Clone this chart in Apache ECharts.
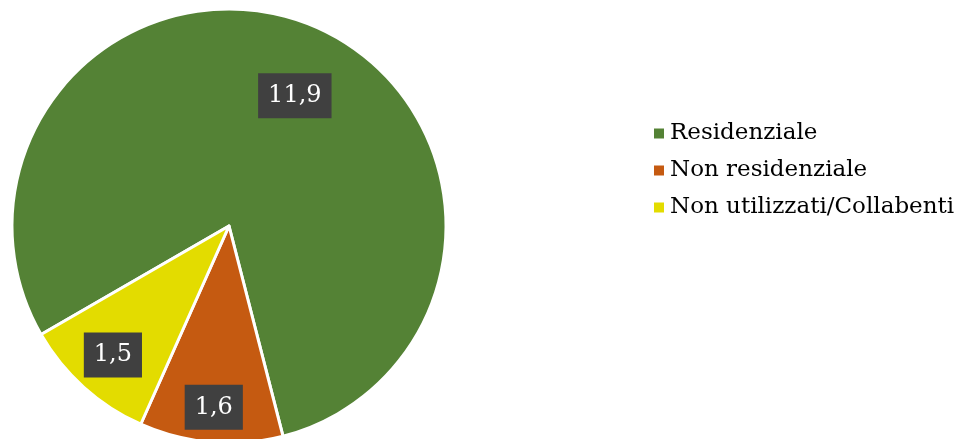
<!DOCTYPE html>
<html><head><meta charset="utf-8">
<script src="https://cdn.jsdelivr.net/npm/echarts@6/dist/echarts.min.js"></script>
<style>html,body{margin:0;padding:0;background:#fff}#c{width:973px;height:439px}</style>
</head><body><div id="c"></div>
<script>
const categories = ['Residenziale', 'Non residenziale', 'Non utilizzati/Collabenti'];
const values = [11.9, 1.6, 1.5];
const colors = ['#548235', '#C55A11', '#E3DC00'];
// distance (px) of each value label from the centre, and angular nudge (deg)
const labelDist = [144, 180, 171.5];
const labelRot = [-4, 0, 0];

const FONT = "Georgia, 'DejaVu Serif', serif";
const center = [229, 226];
const R = 217;

const data = categories.map((c, i) => ({ name: c, value: values[i], itemStyle: { color: colors[i] } }));

const series = [{
  type: 'pie', center: center, radius: [0, R], startAngle: 210, clockwise: true,
  avoidLabelOverlap: false, silent: true,
  itemStyle: { borderColor: '#fff', borderWidth: 3 },
  label: { show: false }, labelLine: { show: false },
  data: data
}];
labelDist.forEach((d, k) => {
  series.push({
    type: 'pie', center: center, radius: [d - 4, d + 2], startAngle: 210 + labelRot[k], clockwise: true,
    avoidLabelOverlap: false, silent: true, legendHoverLink: false,
    itemStyle: { color: 'rgba(0,0,0,0)' }, emphasis: { disabled: true },
    labelLine: { show: false },
    data: categories.map((c, i) => ({
      name: c, value: values[i],
      itemStyle: { color: 'rgba(0,0,0,0)' },
      label: {
        show: i === k, position: 'inside',
        formatter: (p) => String(p.value).replace('.', ','),
        color: '#fff', fontFamily: FONT, fontSize: 24,
        backgroundColor: '#404040', padding: [11, 10, 10, 10]
      }
    }))
  });
});

const chart = echarts.init(document.getElementById('c'), null, { renderer: 'canvas' });
chart.setOption({
  animation: false,
  backgroundColor: '#fff',
  legend: {
    orient: 'vertical', left: 647, top: 117,
    data: categories.map((c, i) => ({ name: c, itemStyle: { color: colors[i] } })),
    icon: 'rect', itemWidth: 12, itemHeight: 12, itemGap: 14,
    textStyle: { fontFamily: FONT, fontSize: 23, color: '#000', padding: [0, 0, 0, 0] },
    selectedMode: false
  },
  series: series
});
</script></body></html>
